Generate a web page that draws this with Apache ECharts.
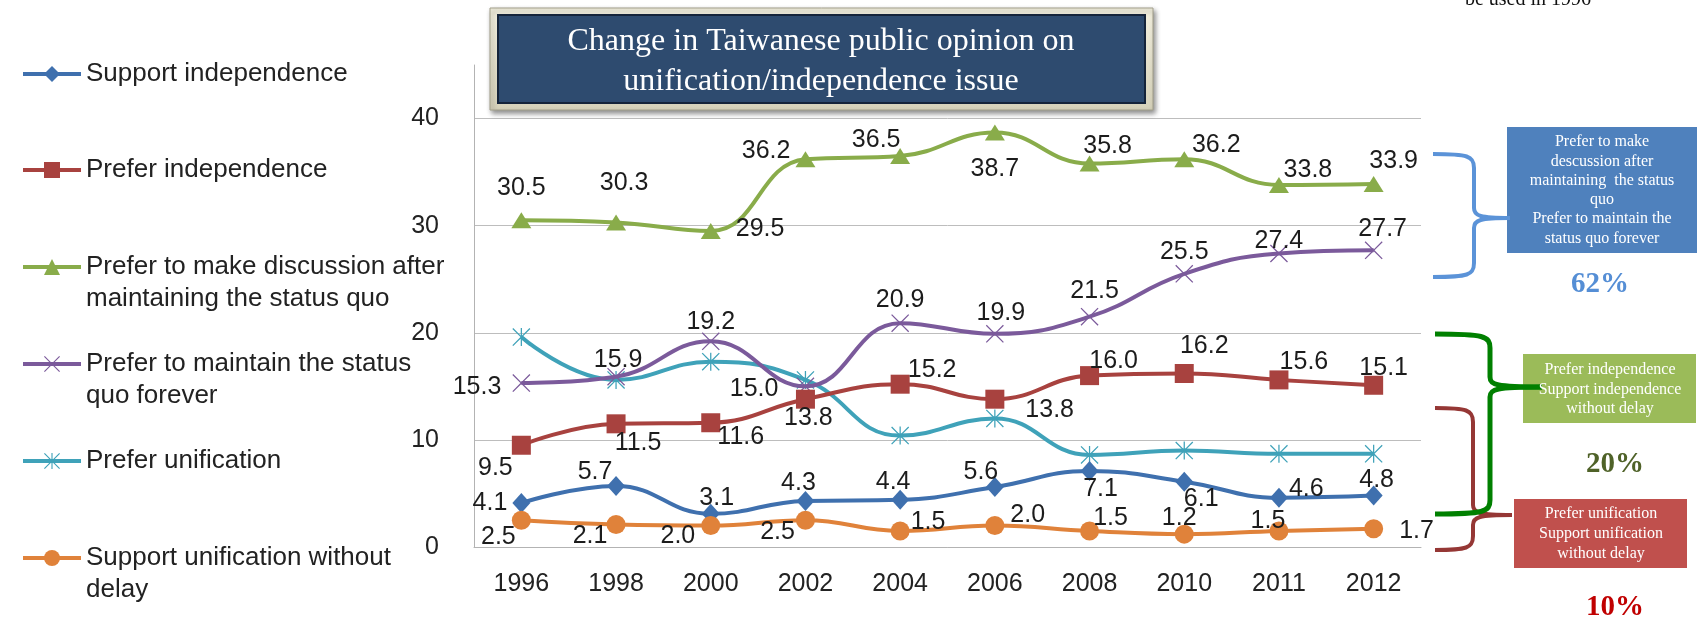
<!DOCTYPE html>
<html>
<head>
<meta charset="utf-8">
<script src="https://cdn.jsdelivr.net/npm/echarts@6/dist/echarts.min.js"></script>
<style>
  html, body { margin: 0; padding: 0; background: #fff; }
  #chart { width: 1697px; height: 627px; }
</style>
</head>
<body>
<div id="chart"></div>
<script>
// chart data
const years = ['1996', '1998', '2000', '2002', '2004', '2006', '2008', '2010', '2011', '2012'];
const supportIndependence = [4.1, 5.7, 3.1, 4.3, 4.4, 5.6, 7.1, 6.1, 4.6, 4.8];
const preferIndependence = [9.5, 11.5, 11.6, 13.8, 15.2, 13.8, 16.0, 16.2, 15.6, 15.1];
const discussLater = [30.5, 30.3, 29.5, 36.2, 36.5, 38.7, 35.8, 36.2, 33.8, 33.9];
const statusQuoForever = [15.3, 15.9, 19.2, 15.0, 20.9, 19.9, 21.5, 25.5, 27.4, 27.7];
const preferUnification = [19.6, 15.6, 17.3, 15.6, 10.4, 12.0, 8.6, 9.0, 8.7, 8.7];
const supportUnification = [2.5, 2.1, 2.0, 2.5, 1.5, 2.0, 1.5, 1.2, 1.5, 1.7];

const seriesNames = [
    'Support independence',
    'Prefer independence',
    'Prefer to make discussion after\nmaintaining the status quo',
    'Prefer to maintain the status\nquo forever',
    'Prefer unification',
    'Support unification without\ndelay'
];

// where each data label sits: [position, dx, dy]
const labelsBlue = [['left', 0, 0], ['top', -21, 14], ['top', 6, 12], ['top', -7, 10], ['top', -7, 10],
    ['top', -14, 13], ['bottom', 11, -9], ['bottom', 17, -10], ['right', -4, -9], ['top', 3, 12]];
const labelsRed = [['bottom', -26, -4], ['bottom', 22, -8], ['bottom', 30, -13], ['bottom', 3, -8], ['top', 32, 13],
    ['right', 16, 11], ['top', 24, 12], ['top', 20, 0], ['top', 25, 9], ['top', 10, 10]];
const labelsGreen = [['top', 0, -7], ['top', 8, -14], ['right', 10, -2], ['left', 0, -8], ['top', -24, 10],
    ['bottom', 0, 11], ['top', 18, 8], ['top', 32, 11], ['top', 29, 11], ['top', 20, 3]];
const labelsPurple = [['left', -6, 4], ['top', 2, 10], ['top', 0, 7], ['left', -13, 3], ['top', 0, 3],
    ['top', 6, 6], ['top', 5, 1], ['top', 0, 5], ['top', 0, 14], ['top', 9, 5]];
const labelsOrange = [['bottom', -23, -10], ['bottom', -26, -15], ['left', -1, 11], ['left', 4, 12], ['right', -4, -9],
    ['right', 1, -10], ['top', 21, 14], ['top', -5, 11], ['top', -11, 17], ['right', 11, 2]];

const SANS = 'Liberation Sans';
const SERIF = 'Liberation Serif';

const crossPath = 'path://M0,1L1,0L10,9L19,0L20,1L11,10L20,19L19,20L10,11L1,20L0,19L9,10Z';
const starPath = 'path://M0,1L1,0L10,9L19,0L20,1L11,10L20,19L19,20L10,11L1,20L0,19L9,10Z M9.3,0L10.7,0L10.7,20L9.3,20Z';

function makeSeries(name, values, color, symbol, size, places, z) {
    return {
        name: name,
        type: 'line',
        smooth: 0.45,
        symbol: symbol,
        symbolSize: size,
        z: z,
        itemStyle: { color: color },
        lineStyle: { width: 4, color: color },
        label: {
            show: !!places,
            fontFamily: SANS,
            fontSize: 25,
            color: '#1c1c1c',
            formatter: function (p) { return p.value.toFixed(1); }
        },
        data: values.map(function (v, i) {
            if (!places) return v;
            return { value: v, label: { position: places[i][0], offset: [places[i][1], places[i][2]] } };
        })
    };
}

// one legend block per entry, the source spaces them unevenly.
// two line names get a blank first line so the icon sits on the first text line
const legendTops = [58, 154, 219, 316, 445, 510];
const legends = seriesNames.map(function (n, i) {
    return {
        data: [n],
        orient: 'vertical',
        left: 21,
        top: legendTops[i],
        padding: 0,
        itemWidth: 58,
        itemHeight: 20,
        lineStyle: { width: 4 },
        formatter: function (name) { return name.indexOf('\n') >= 0 ? ' \n' + name : name; },
        textStyle: { fontFamily: SANS, fontSize: 26, color: '#222', lineHeight: 32 }
    };
});

// curly brace drawn from bezier pieces: x0 = open ends, xv = spine, xt = tip
function brace(x0, xv, xt, yTop, yMid, yBot, color, w, z) {
    const st = { fill: null, stroke: color, lineWidth: w };
    const r = 14;
    const bz = function (a, b, c, d, e, f, g, h) {
        return { type: 'bezierCurve', z: z, shape: { x1: a, y1: b, cpx1: c, cpy1: d, cpx2: e, cpy2: f, x2: g, y2: h }, style: st };
    };
    const ln = function (a, b, c, d) {
        return { type: 'line', z: z, shape: { x1: a, y1: b, x2: c, y2: d }, style: st };
    };
    return [
        bz(x0, yTop, xv - 6, yTop, xv, yTop + 2, xv, yTop + r),
        ln(xv, yTop + r, xv, yMid - 10),
        bz(xv, yMid - 10, xv, yMid - 2, xv + 6, yMid, xt, yMid),
        bz(xt, yMid, xv + 6, yMid, xv, yMid + 2, xv, yMid + 10),
        ln(xv, yMid + 10, xv, yBot - r),
        bz(xv, yBot - r, xv, yBot - 2, xv - 6, yBot, x0, yBot)
    ];
}

function boxText(lines, x, y0, step) {
    return lines.map(function (t, i) {
        return {
            type: 'text', x: x, y: y0 + i * step, z: 30,
            style: { text: t, fill: '#fff', font: '16px "' + SERIF + '"', textAlign: 'center', textVerticalAlign: 'middle' }
        };
    });
}

let chart = echarts.init(document.getElementById('chart'));

const option = {
    animation: false,
    backgroundColor: '#fff',
    legend: legends,
    grid: { left: 474, right: 276, top: 65, bottom: 80 },
    xAxis: {
        type: 'category',
        data: years,
        boundaryGap: true,
        axisLine: { lineStyle: { color: '#b3b3b3', width: 1 } },
        axisTick: { show: false },
        axisLabel: { fontFamily: SANS, fontSize: 25, color: '#222', margin: 25 }
    },
    yAxis: {
        type: 'value',
        min: 0,
        max: 45,
        interval: 10,
        axisLine: { show: true, lineStyle: { color: '#b3b3b3', width: 1 } },
        axisTick: { show: false },
        axisLabel: { fontFamily: SANS, fontSize: 25, color: '#222', margin: 35, showMaxLabel: false },
        splitLine: { showMaxLine: false, lineStyle: { color: '#bdbdbd', width: 1 } }
    },
    series: [
        makeSeries(seriesNames[0], supportIndependence, '#3F70AE', 'diamond', [18, 20], labelsBlue, 6),
        makeSeries(seriesNames[1], preferIndependence, '#A8423F', 'rect', 19, labelsRed, 5),
        makeSeries(seriesNames[2], discussLater, '#89AC4A', 'triangle', [20, 16], labelsGreen, 4),
        makeSeries(seriesNames[3], statusQuoForever, '#7B5A9B', crossPath, 18, labelsPurple, 3),
        makeSeries(seriesNames[4], preferUnification, '#3FA2B9', starPath, 18, null, 2),
        makeSeries(seriesNames[5], supportUnification, '#E0823A', 'circle', 19, labelsOrange, 7)
    ],
    graphic: [].concat([
        // cut off note at the very top
        { type: 'text', x: 1528, y: 0, z: 30,
          style: { text: 'be used in 1996', fill: '#111', font: '20px "' + SERIF + '"', textAlign: 'center', textVerticalAlign: 'middle' } },
        // title box
        { type: 'rect', z: 20, shape: { x: 490, y: 8, width: 663, height: 102 },
          style: {
              fill: new echarts.graphic.LinearGradient(0, 0, 0, 1, [
                  { offset: 0, color: '#F3F0DF' }, { offset: 1, color: '#D6D2BA' }]),
              stroke: '#A29F8A', lineWidth: 1,
              shadowBlur: 5, shadowColor: 'rgba(0,0,0,0.45)', shadowOffsetX: 2, shadowOffsetY: 3
          } },
        { type: 'rect', z: 21, shape: { x: 498, y: 15, width: 647, height: 88 },
          style: { fill: '#2E4B6F', stroke: '#15243a', lineWidth: 2 } },
        { type: 'text', x: 821, y: 42, z: 22,
          style: { text: 'Change in Taiwanese public opinion on', fill: '#fff', font: '32px "' + SERIF + '"', textAlign: 'center', textVerticalAlign: 'middle' } },
        { type: 'text', x: 821, y: 82, z: 22,
          style: { text: 'unification/independence issue', fill: '#fff', font: '32px "' + SERIF + '"', textAlign: 'center', textVerticalAlign: 'middle' } },
        // right side annotation boxes
        { type: 'rect', z: 25, shape: { x: 1507, y: 127, width: 190, height: 126 }, style: { fill: '#4F81BD' } },
        { type: 'rect', z: 25, shape: { x: 1523, y: 354, width: 173, height: 69 }, style: { fill: '#9BBB59' } },
        { type: 'rect', z: 25, shape: { x: 1514, y: 499, width: 173, height: 69 }, style: { fill: '#C0504D' } },
        { type: 'text', x: 1600, y: 285, z: 30,
          style: { text: '62%', fill: '#558ED5', font: 'bold 29px "' + SERIF + '"', textAlign: 'center', textVerticalAlign: 'middle' } },
        { type: 'text', x: 1615, y: 465, z: 30,
          style: { text: '20%', fill: '#4F6228', font: 'bold 29px "' + SERIF + '"', textAlign: 'center', textVerticalAlign: 'middle' } },
        { type: 'text', x: 1615, y: 608, z: 30,
          style: { text: '10%', fill: '#C00000', font: 'bold 29px "' + SERIF + '"', textAlign: 'center', textVerticalAlign: 'middle' } }
    ],
    brace(1433, 1474, 1510, 154, 218, 277, '#5B93D8', 4, 26),
    brace(1435, 1473, 1512, 408, 515, 550, '#953735', 4, 27),
    brace(1435, 1490, 1542, 334, 387, 514, '#008000', 5, 28),
    boxText(['Prefer to make', 'descussion after', 'maintaining  the status', 'quo', 'Prefer to maintain the', 'status quo forever'], 1602, 142, 19.3),
    boxText(['Prefer independence', 'Support independence', 'without delay'], 1610, 370, 19.3),
    boxText(['Prefer unification', 'Support unification', 'without delay'], 1601, 514, 20))
};

chart.setOption(option);
</script>
</body>
</html>
